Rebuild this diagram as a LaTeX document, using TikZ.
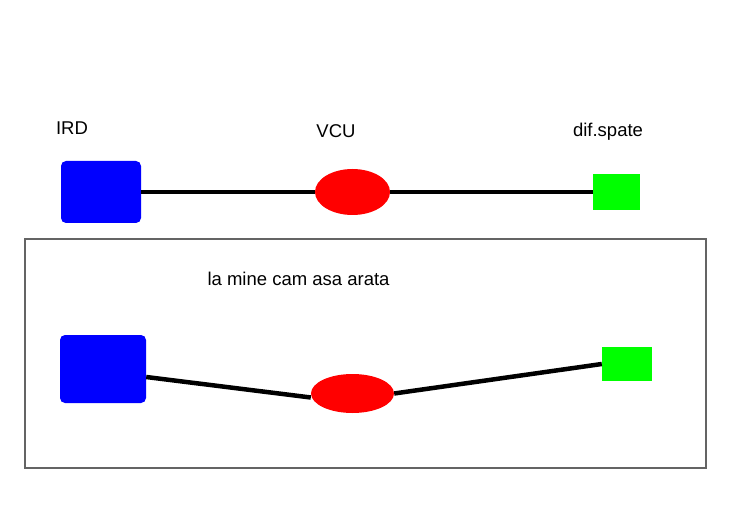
\documentclass[tikz,border=0pt]{standalone}
\usepackage{fontspec}
\setmainfont{Liberation Sans}
\usetikzlibrary{shapes.geometric}
\begin{document}
\begin{tikzpicture}[x=1pt,y=-1pt,
  lbl/.style={font=\fontsize{18.5}{21}\selectfont, inner sep=0pt, anchor=center},
  bluebox/.style={fill={rgb,255:red,0;green,0;blue,255}, draw=none, rounded corners=5pt, inner sep=0pt},
  redell/.style={ellipse, fill={rgb,255:red,255;green,0;blue,0}, draw=none, inner sep=0pt},
  greenbox/.style={fill={rgb,255:red,0;green,255;blue,0}, draw=none, inner sep=0pt},
  wire/.style={line width=4.5pt, black}]
\useasboundingbox (0,0) rectangle (745,532);
% top row
\node[lbl] (lird) at (72,128) {IRD};
\node[lbl] (lvcu) at (336,131) {VCU};
\node[lbl] (ldif) at (608,132) {dif.spate};
\node[bluebox, minimum width=80pt, minimum height=62pt] (b1) at (101,192) {};
\node[redell, minimum width=75pt, minimum height=46pt] (r1) at (352.5,192) {};
\node[greenbox, minimum width=47pt, minimum height=36pt] (g1) at (616.5,192) {};
\draw[wire] (b1.east) -- (r1.west);
\draw[wire] (r1.east) -- (g1.west);
% frame
\node[draw={rgb,255:red,100;green,100;blue,100}, line width=1.3pt, minimum width=681pt, minimum height=229pt, inner sep=0pt] (frame) at (365.5,353.5) {};
\node[lbl] (lmine) at (298.5,279) {la mine cam asa arata};
% bottom row
\node[bluebox, minimum width=86pt, minimum height=68pt] (b2) at (103,369) {};
\node[redell, minimum width=83pt, minimum height=39pt] (r2) at (352.5,393.5) {};
\node[greenbox, minimum width=50pt, minimum height=34pt] (g2) at (627,364) {};
\draw[wire] ([yshift=-8pt]b2.east) -- ([yshift=-4pt]r2.west);
\draw[wire] (r2.east) -- (g2.west);
\end{tikzpicture}
\end{document}
